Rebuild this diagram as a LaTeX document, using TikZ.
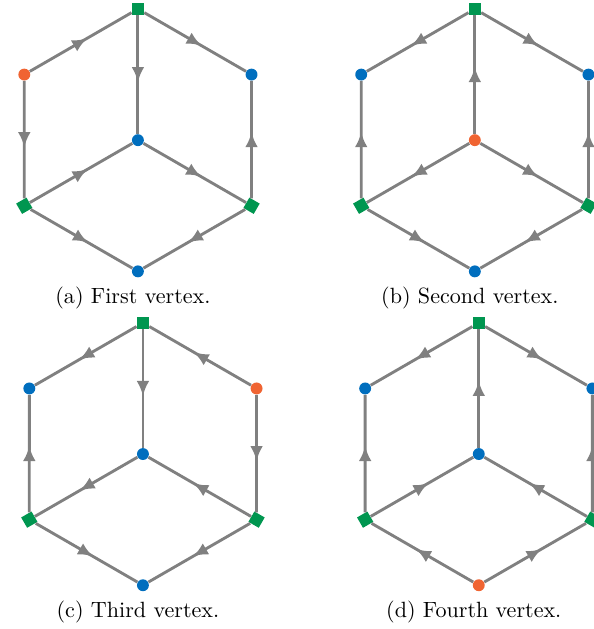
\documentclass[tikz,border=0pt]{standalone}
\usepackage{amsmath}
\usepackage{tikz}
\usetikzlibrary{positioning, arrows.meta, decorations.markings}

\definecolor{vgreen}{RGB}{0,150,80}
\definecolor{vorange}{RGB}{240,100,50}
\definecolor{vblue}{RGB}{0,110,190}

\begin{document}
\begin{tikzpicture}[every edge/.style={draw, color=gray, line width=1.3pt, postaction={decorate}, decoration={markings, mark=at position 0.5 with {\arrow[xshift=3.4pt]{Latex[length=6.8pt, width=5.8pt]}}}}, dot node/.style={circle, fill=vblue, inner sep=0pt, minimum size=5.4pt}, hot node/.style={dot node, fill=vorange}, square node/.style={rectangle, fill=vgreen, inner sep=0pt, minimum size=5.4pt}, diamond node/.style={square node, rotate=30}]

  \useasboundingbox (0,0) rectangle (9.46,10.02);

  % (a) first vertex
  \begin{scope}[shift={(2.197,7.787)}]
    \node[square node] (a-t) at (90:2.09) {};
    \node[hot node] (a-lt) at (150:2.09) {};
    \node[dot node] (a-rt) at (30:2.09) {};
    \node[dot node] (a-c) at (0,0) {};
    \node[diamond node] (a-lb) at (210:2.09) {};
    \node[diamond node, rotate=-60] (a-rb) at (330:2.09) {};
    \node[dot node] (a-b) at (270:2.09) {};
  \end{scope}
  \node[below=0.3mm of a-b, xshift=-0.8mm] (a-cap) {(a) First vertex.};

  \path
    (a-lt) edge (a-t)
    (a-t) edge (a-rt)
    (a-t) edge (a-c)
    (a-lt) edge (a-lb)
    (a-rb) edge (a-rt)
    (a-lb) edge (a-c)
    (a-c) edge (a-rb)
    (a-lb) edge (a-b)
    (a-rb) edge (a-b);

  % (b) second vertex
  \begin{scope}[shift={(7.564,7.787)}]
    \node[square node] (b-t) at (90:2.09) {};
    \node[dot node] (b-lt) at (150:2.09) {};
    \node[dot node] (b-rt) at (30:2.09) {};
    \node[hot node] (b-c) at (0,0) {};
    \node[diamond node] (b-lb) at (210:2.09) {};
    \node[diamond node, rotate=-60] (b-rb) at (330:2.09) {};
    \node[dot node] (b-b) at (270:2.09) {};
  \end{scope}
  \node[below=0.3mm of b-b, xshift=-0.8mm] (b-cap) {(b) Second vertex.};

  \path
    (b-t) edge (b-lt)
    (b-t) edge (b-rt)
    (b-c) edge (b-t)
    (b-lb) edge (b-lt)
    (b-rb) edge (b-rt)
    (b-c) edge (b-lb)
    (b-c) edge (b-rb)
    (b-lb) edge (b-b)
    (b-rb) edge (b-b);

  % (c) third vertex
  \begin{scope}[shift={(2.277,2.787)}]
    \node[square node] (c-t) at (90:2.09) {};
    \node[dot node] (c-lt) at (150:2.09) {};
    \node[hot node] (c-rt) at (30:2.09) {};
    \node[dot node] (c-c) at (0,0) {};
    \node[diamond node] (c-lb) at (210:2.09) {};
    \node[diamond node, rotate=-60] (c-rb) at (330:2.09) {};
    \node[dot node] (c-b) at (270:2.09) {};
  \end{scope}
  \node[below=0.3mm of c-b, xshift=-0.8mm] (c-cap) {(c) Third vertex.};

  \path
    (c-t) edge (c-lt)
    (c-rt) edge (c-t)
    (c-t) edge (c-c)
    (c-lb) edge (c-lt)
    (c-rt) edge (c-rb)
    (c-c) edge (c-lb)
    (c-rb) edge (c-c)
    (c-lb) edge (c-b)
    (c-rb) edge (c-b);

  % (d) fourth vertex
  \begin{scope}[shift={(7.627,2.787)}]
    \node[square node] (d-t) at (90:2.09) {};
    \node[dot node] (d-lt) at (150:2.09) {};
    \node[dot node] (d-rt) at (30:2.09) {};
    \node[dot node] (d-c) at (0,0) {};
    \node[diamond node] (d-lb) at (210:2.09) {};
    \node[diamond node, rotate=-60] (d-rb) at (330:2.09) {};
    \node[hot node] (d-b) at (270:2.09) {};
  \end{scope}
  \node[below=0.3mm of d-b, xshift=-0.8mm] (d-cap) {(d) Fourth vertex.};

  \path
    (d-t) edge (d-lt)
    (d-t) edge (d-rt)
    (d-c) edge (d-t)
    (d-lb) edge (d-lt)
    (d-rb) edge (d-rt)
    (d-lb) edge (d-c)
    (d-rb) edge (d-c)
    (d-b) edge (d-lb)
    (d-b) edge (d-rb);
\end{tikzpicture}
\end{document}
